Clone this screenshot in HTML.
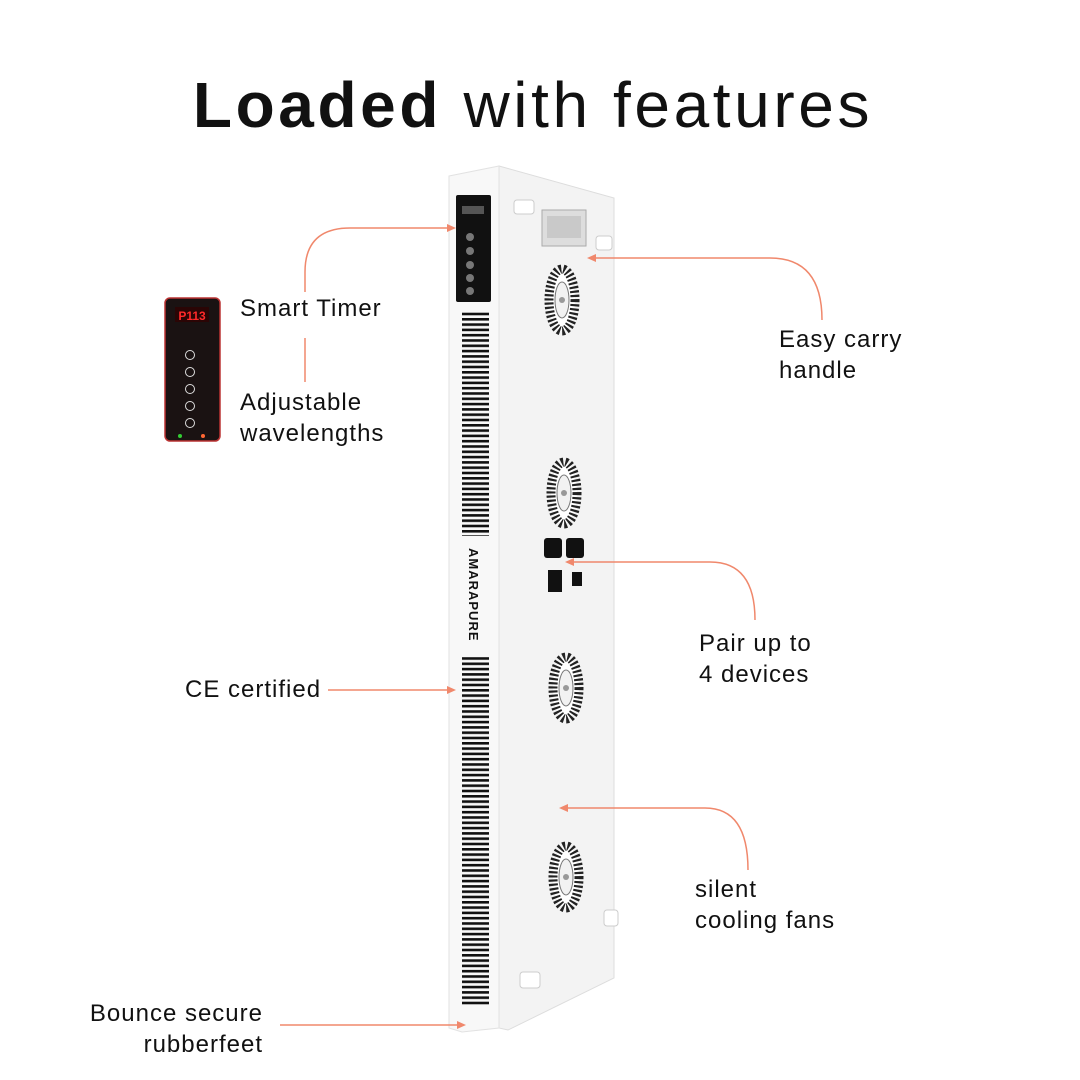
<!DOCTYPE html>
<html><head><meta charset="utf-8"><style>
html,body{margin:0;padding:0;background:#fff}
svg{display:block}
text{font-family:"Liberation Sans",sans-serif;fill:#111}
</style></head><body>
<svg width="1080" height="1080" viewBox="0 0 1080 1080" xmlns="http://www.w3.org/2000/svg">
<defs>
<pattern id="vent" x="0" y="0" width="30" height="5.3" patternUnits="userSpaceOnUse">
<rect x="0" y="0" width="30" height="2.6" fill="#111"/>
</pattern>
<g id="fan">
<ellipse cx="0" cy="0" rx="13" ry="31" fill="#fff" stroke="#222" stroke-width="9" stroke-dasharray="2.2 2"/>
<ellipse cx="0" cy="0" rx="7" ry="18" fill="#f2f2f2" stroke="#777" stroke-width="1"/>
<circle cx="0" cy="0" r="3" fill="#999"/>
</g>
</defs>
<text x="533" y="127" font-size="64" text-anchor="middle" letter-spacing="3.6"><tspan font-weight="bold">Loaded</tspan> with features</text>

<polygon points="499,166 614,198 614,978 508,1030 499,1028" fill="#f3f3f3" stroke="#ddd"/>
<polygon points="449,176 499,166 499,1028 462,1032 449,1028" fill="#f8f8f8" stroke="#e2e2e2"/>
<rect x="462" y="312" width="27" height="224" fill="url(#vent)"/>
<rect x="462" y="655" width="27" height="350" fill="url(#vent)"/>
<text x="0" y="0" font-size="13" font-weight="bold" letter-spacing="1" transform="translate(469,548) rotate(90)">AMARAPURE</text>
<rect x="456" y="195" width="35" height="107" rx="2" fill="#111"/>
<rect x="462" y="206" width="22" height="8" fill="#555"/>
<g fill="#777"><circle cx="470" cy="237" r="4"/><circle cx="470" cy="251" r="4"/><circle cx="470" cy="265" r="4"/><circle cx="470" cy="278" r="4"/><circle cx="470" cy="291" r="4"/></g>
<rect x="542" y="210" width="44" height="36" fill="#ddd" stroke="#aaa"/>
<rect x="547" y="216" width="34" height="22" fill="#c9c9c9"/>
<rect x="514" y="200" width="20" height="14" rx="3" fill="#fff" stroke="#ccc"/>
<rect x="596" y="236" width="16" height="14" rx="3" fill="#fff" stroke="#ccc"/>
<rect x="604" y="910" width="14" height="16" rx="3" fill="#fff" stroke="#ccc"/>
<rect x="520" y="972" width="20" height="16" rx="3" fill="#fff" stroke="#ccc"/>
<use href="#fan" transform="translate(562,300)"/>
<use href="#fan" transform="translate(564,493)"/>
<use href="#fan" transform="translate(566,688)"/>
<use href="#fan" transform="translate(566,877)"/>
<rect x="544" y="538" width="18" height="20" rx="3" fill="#111"/>
<rect x="566" y="538" width="18" height="20" rx="3" fill="#111"/>
<rect x="548" y="570" width="14" height="22" fill="#111"/>
<rect x="572" y="572" width="10" height="14" fill="#111"/>

<rect x="165" y="298" width="55" height="143" rx="5" fill="#1a1212" stroke="#b33" stroke-width="1.5"/>
<rect x="175" y="307" width="34" height="15" fill="#2a0505"/>
<text x="192" y="320" font-size="12" font-weight="bold" text-anchor="middle" style="fill:#ff2a2a">P113</text>
<g fill="none" stroke="#ddd" stroke-width="1"><circle cx="190" cy="355" r="4.5"/><circle cx="190" cy="372" r="4.5"/><circle cx="190" cy="389" r="4.5"/><circle cx="190" cy="406" r="4.5"/><circle cx="190" cy="423" r="4.5"/></g>
<circle cx="180" cy="436" r="2" fill="#3c3"/><circle cx="203" cy="436" r="2" fill="#f63"/>

<g fill="none" stroke="#f0886c" stroke-width="1.5">
<path d="M452,228 H350 Q305,228 305,272 V292"/>
<path d="M305,338 V382"/>
<path d="M592,258 H770 Q822,258 822,320"/>
<path d="M570,562 H710 Q755,562 755,620"/>
<path d="M328,690 H450"/>
<path d="M564,808 H705 Q748,808 748,870"/>
<path d="M280,1025 H460"/>
</g>
<g fill="#f0886c">
<polygon points="456,228 447,224 447,232"/>
<polygon points="587,258 596,254 596,262"/>
<polygon points="565,562 574,558 574,566"/>
<polygon points="456,690 447,686 447,694"/>
<polygon points="559,808 568,804 568,812"/>
<polygon points="466,1025 457,1021 457,1029"/>
</g>

<g font-size="24" letter-spacing="1">
<text x="240" y="316">Smart Timer</text>
<text x="240" y="410">Adjustable</text>
<text x="240" y="441">wavelengths</text>
<text x="779" y="347">Easy carry</text>
<text x="779" y="378">handle</text>
<text x="699" y="651">Pair up to</text>
<text x="699" y="682">4 devices</text>
<text x="185" y="697">CE certified</text>
<text x="695" y="897">silent</text>
<text x="695" y="928">cooling fans</text>
<text x="263" y="1021" text-anchor="end">Bounce secure</text>
<text x="263" y="1052" text-anchor="end">rubberfeet</text>
</g>
</svg>
</body></html>
